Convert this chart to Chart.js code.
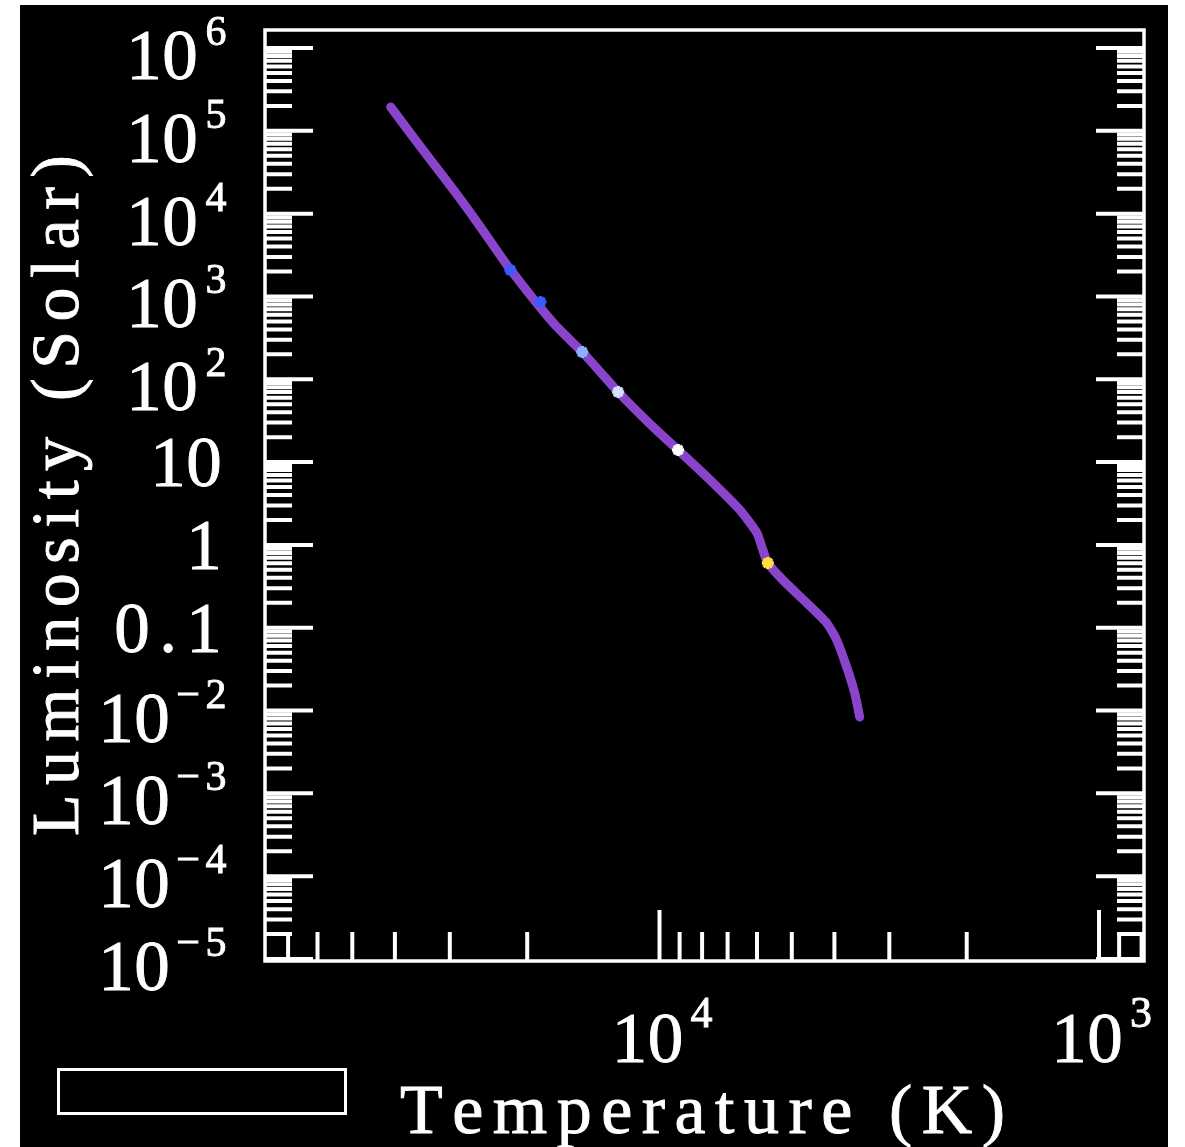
<!DOCTYPE html>
<html>
<head>
<meta charset="utf-8">
<script src="https://cdn.jsdelivr.net/npm/chart.js@4.4.1/dist/chart.umd.min.js"></script>
<style>
    html, body { margin: 0; padding: 0; background: #ffffff; }
    #painel { position: absolute; left: 20px; top: 5px; width: 1148px; height: 1142px; background: #000000; }
    canvas { display: block; }
</style>
</head>
<body>
<div id="painel"><canvas id="graficoHR" width="1148" height="1142"></canvas></div>
<script>
// trajetoria (temperatura em K, luminosidade em unidades solares)
const temperaturas = [40890, 34950, 29410, 25540, 22060, 17440, 14910, 12420, 10340, 9074, 7797,
    6561, 6003, 5818, 5669, 5241, 4623, 4165, 3953, 3751, 3597, 3504];
const luminosidades = [193700, 63700, 19280, 6890, 2268, 478, 207.5, 70.2, 26.5, 14.0, 6.61,
    2.64, 1.39, 0.868, 0.605, 0.377, 0.199, 0.114, 0.0711, 0.0336, 0.0163, 0.00836];

// estrelas marcadas sobre a trajetoria
const estrelasTemp = [21840, 18660, 14990, 12420, 9074, 5669];
const estrelasLum = [2085, 857, 213, 70.2, 14.0, 0.605];
const estrelasCor = ['#3b5bff', '#3b5bff', '#8fb0ff', '#d5e0ff', '#ffffff', '#ffe040'];

// eixos
const tempMin = 790, tempMax = 79000;
const lumMin = 9.46e-6, lumMax = 1.65e6;
const tempDecadas = [1e3, 1e4];
const tempRotulos = ['10^3', '10^4'];
const lumDecadas = [1e6, 1e5, 1e4, 1e3, 1e2, 10, 1, 0.1, 1e-2, 1e-3, 1e-4, 1e-5];
const lumRotulos = ['10^6', '10^5', '10^4', '10^3', '10^2', '10', '1', '0.1', '10^−2', '10^−3', '10^−4', '10^−5'];
const subdivisoes = [2, 3, 4, 5, 6, 7, 8, 9];

const FONTE = '"Liberation Serif", "DejaVu Serif", serif';

// numeros com passo fixo (cada caractere centrado na sua casa)
function texto(ctx, t, x, y, tam, passo) {
    ctx.save();
    ctx.font = tam + 'px ' + FONTE;
    ctx.textAlign = 'center';
    ctx.textBaseline = 'alphabetic';
    ctx.lineWidth = 0.9;
    ctx.translate(x, y);
    [...t].forEach((c, i) => {
        const cx = passo * (i + 0.5);
        ctx.fillText(c, cx, 0);
        ctx.strokeText(c, cx, 0);
    });
    ctx.restore();
}

// titulos: letras proporcionais com espaco extra entre elas
function titulo(ctx, t, cx, y, tam, espaco, rot) {
    ctx.save();
    ctx.font = tam + 'px ' + FONTE;
    ctx.textAlign = 'left';
    ctx.textBaseline = 'alphabetic';
    ctx.lineWidth = 0.9;
    const larg = [...t].map(c => ctx.measureText(c).width);
    const total = larg.reduce((s, w) => s + w, 0) + espaco * (larg.length - 1);
    ctx.translate(cx, y);
    if (rot) ctx.rotate(rot);
    let px = -total / 2;
    [...t].forEach((c, i) => {
        ctx.fillText(c, px, 0);
        ctx.strokeText(c, px, 0);
        px += larg[i] + espaco;
    });
    ctx.restore();
}

// moldura, marcas dos eixos e rotulos no estilo antigo
const eixosAntigos = {
    id: 'eixosAntigos',
    afterDraw(chart) {
        const { ctx, chartArea: a, scales: { x, y } } = chart;
        ctx.save();
        ctx.strokeStyle = '#ffffff';
        ctx.fillStyle = '#ffffff';
        ctx.lineCap = 'butt';

        // marcas de Y (esquerda e direita) e de X (embaixo)
        ctx.lineWidth = 4;
        const marcaY = (v, comp) => {
            const py = y.getPixelForValue(v);
            if (py < a.top - 1 || py > a.bottom + 1) return;
            ctx.beginPath();
            ctx.moveTo(a.left, py); ctx.lineTo(a.left + comp, py);
            ctx.moveTo(a.right, py); ctx.lineTo(a.right - comp, py);
            ctx.stroke();
        };
        const marcaX = (v, comp) => {
            const px = x.getPixelForValue(v);
            if (px < a.left - 1 || px > a.right + 1) return;
            ctx.beginPath();
            ctx.moveTo(px, a.bottom); ctx.lineTo(px, a.bottom - comp);
            ctx.stroke();
        };
        [1e-6, ...lumDecadas].forEach(d => subdivisoes.forEach(m => marcaY(d * m, 27)));
        lumDecadas.forEach(d => marcaY(d, 48));
        [100, ...tempDecadas].forEach(d => subdivisoes.forEach(m => marcaX(d * m, 29)));
        tempDecadas.forEach(d => marcaX(d, 51));

        // moldura
        ctx.lineWidth = 3.5;
        ctx.strokeRect(a.left, a.top, a.right - a.left, a.bottom - a.top);

        // rotulos de Y
        lumDecadas.forEach((d, i) => {
            const py = y.getPixelForValue(d);
            const [base, exp] = lumRotulos[i].split('^');
            if (!exp) {
                const fim = a.left - 43;
                texto(ctx, base, fim - base.length * 36, py + 24, 71, 36);
            } else {
                const fim = a.left - 35;
                const ie = fim - [...exp].length * 28;
                texto(ctx, exp, ie, py - 3, 42, 28);
                texto(ctx, base, ie - 4 - base.length * 36, py + 31, 71, 36);
            }
        });

        // rotulos de X
        tempDecadas.forEach((d, i) => {
            const px = x.getPixelForValue(d);
            const [base, exp] = tempRotulos[i].split('^');
            const ini = px + 4 - (base.length * 36 + 4 + 28) / 2;
            texto(ctx, base, ini, a.bottom + 101, 71, 36);
            texto(ctx, exp, ini + base.length * 36 + 4, a.bottom + 66, 44, 28);
        });

        // titulos dos eixos
        titulo(ctx, 'Temperature (K)', (a.left + a.right) / 2 - 2, a.bottom + 172, 70, 9.5);
        titulo(ctx, 'Luminosity (Solar)', 58, (a.top + a.bottom) / 2, 68, 9.5, -Math.PI / 2);

        // caixa vazia no canto inferior
        ctx.lineWidth = 3;
        ctx.strokeRect(38.5, 1064.5, 287, 44);
        ctx.restore();
    }
};

const trajetoria = temperaturas.map((t, i) => ({ x: t, y: luminosidades[i] }));
const estrelas = estrelasTemp.map((t, i) => ({ x: t, y: estrelasLum[i] }));

new Chart(document.getElementById('graficoHR').getContext('2d'), {
    type: 'scatter',
    data: {
        datasets: [
            {
                data: estrelas,
                order: 0,
                pointStyle: 'star',
                pointRadius: 6,
                pointBorderWidth: 3.5,
                pointBorderColor: estrelasCor,
                pointBackgroundColor: estrelasCor
            },
            {
                data: trajetoria,
                order: 1,
                showLine: true,
                borderColor: '#8a44cc',
                borderWidth: 9,
                pointRadius: 0,
                tension: 0.2,
                borderCapStyle: 'round',
                borderJoinStyle: 'round'
            }
        ]
    },
    options: {
        responsive: false,
        animation: false,
        devicePixelRatio: 1,
        layout: { padding: { left: 245, top: 25, right: 24, bottom: 186 } },
        plugins: { legend: { display: false }, tooltip: { enabled: false } },
        scales: {
            x: { type: 'logarithmic', reverse: true, min: tempMin, max: tempMax, display: false },
            y: { type: 'logarithmic', min: lumMin, max: lumMax, display: false }
        }
    },
    plugins: [eixosAntigos]
});
</script>
</body>
</html>
